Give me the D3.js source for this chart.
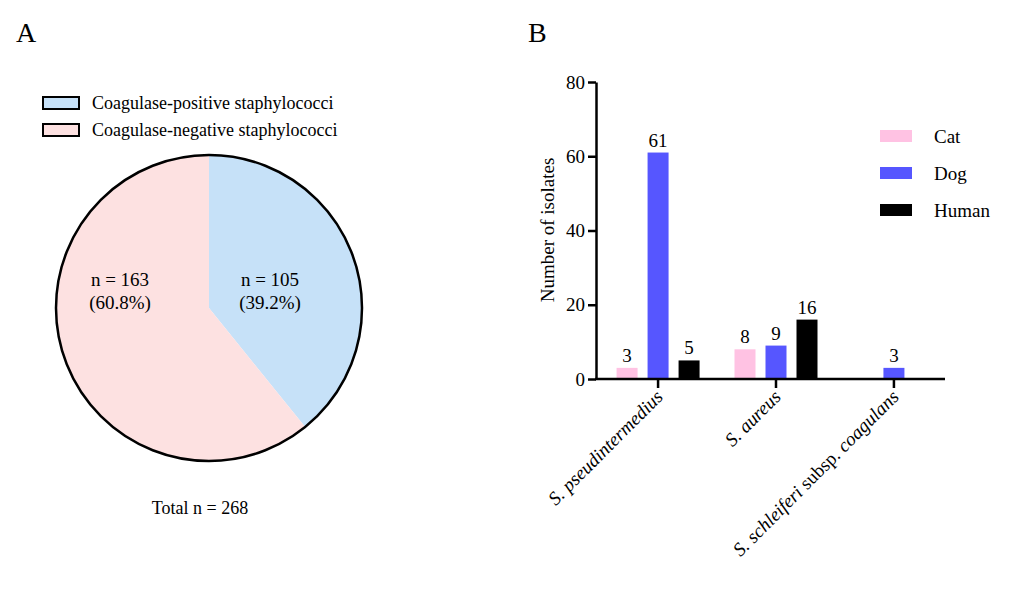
<!DOCTYPE html>
<html><head><meta charset="utf-8">
<script src="https://cdn.jsdelivr.net/npm/d3@7"></script>
<style>body{margin:0;background:#fff}text{font-family:"Liberation Serif","Times New Roman",serif}</style>
</head><body><svg id="c" width="1019" height="603"></svg>
<script>
const pieLabels=["Coagulase-positive staphylococci","Coagulase-negative staphylococci"];
const pieValues=[105,163];
const piePct=["39.2%","60.8%"];
const pieColors=["#C6E1F8","#FDE1E1"];
const species=["S. pseudintermedius","S. aureus","S. schleiferi subsp. coagulans"];
const hosts=["Cat","Dog","Human"];
const hostColors=["#FFC2E3","#5656FF","#000000"];
const counts=[[3,61,5],[8,9,16],[0,3,0]];
const yTicks=[0,20,40,60,80];

const svg=d3.select("#c");
svg.append("text").attr("x",16).attr("y",42).attr("font-size",28).text("A");
svg.append("text").attr("x",528).attr("y",42).attr("font-size",28).text("B");

// Pie
const cx=209,cy=308,r=153;
const arcs=d3.pie().sort(null)(pieValues);
const arc=d3.arc().innerRadius(0).outerRadius(r);
const g=svg.append("g").attr("transform",`translate(${cx},${cy})`);
g.selectAll("path").data(arcs).join("path").attr("d",arc).attr("fill",(d,i)=>pieColors[i]);
g.append("circle").attr("r",r).attr("fill","none").attr("stroke","#000").attr("stroke-width",2.5);
const lp=[[61,-22],[-89,-22]];
arcs.forEach((d,i)=>{
  const t=g.append("text").attr("text-anchor","middle").attr("font-size",19);
  t.append("tspan").attr("x",lp[i][0]).attr("y",lp[i][1]).text("n = "+pieValues[i]);
  t.append("tspan").attr("x",lp[i][0]).attr("y",lp[i][1]+23).text("("+piePct[i]+")");
});
pieLabels.forEach((l,i)=>{
  svg.append("rect").attr("x",43).attr("y",97+i*27).attr("width",36).attr("height",12).attr("fill",pieColors[i]).attr("stroke","#000").attr("stroke-width",2);
  svg.append("text").attr("x",92).attr("y",109+i*27).attr("font-size",18).text(l);
});
svg.append("text").attr("x",200).attr("y",514).attr("text-anchor","middle").attr("font-size",18).text("Total n = 268");

// Bars
const x0=d3.scaleBand().domain(species).range([605,947]).paddingInner(0.1).paddingOuter(0);
const y=d3.scaleLinear().domain([0,80]).range([379,82]);
const x1=d3.scaleBand().domain(hosts).range([-46,46]);
const bw=21;
species.forEach((s,si)=>{
  const gc=x0(s)+x0.bandwidth()/2;
  hosts.forEach((h,hi)=>{
    const v=counts[si][hi]; if(!v) return;
    const xc=gc+(hi-1)*31;
    svg.append("rect").attr("x",xc-bw/2).attr("width",bw).attr("y",y(v)).attr("height",y(0)-y(v)).attr("fill",hostColors[hi]);
    svg.append("text").attr("x",xc).attr("y",y(v)-6).attr("text-anchor","middle").attr("font-size",19).text(v);
  });
});
const ya=svg.append("g").attr("transform","translate(596,0)").call(d3.axisLeft(y).tickValues(yTicks).tickSize(8).tickSizeOuter(0));
ya.select(".domain").attr("stroke-width",2.5);
ya.selectAll("line").attr("stroke-width",2.5);
ya.selectAll("text").attr("font-size",19).attr("font-family","Liberation Serif");
svg.append("line").attr("x1",595).attr("x2",945).attr("y1",379).attr("y2",379).attr("stroke","#000").attr("stroke-width",2.5);
species.forEach(s=>{
  const gc=x0(s)+x0.bandwidth()/2;
  svg.append("line").attr("x1",gc).attr("x2",gc).attr("y1",379).attr("y2",388).attr("stroke","#000").attr("stroke-width",2.5);
  const t=svg.append("text").attr("transform",`translate(${gc+6},${398}) rotate(-45)`).attr("text-anchor","end").attr("font-size",19);
  const parts=s.split(" subsp. ");
  t.append("tspan").attr("font-style","italic").text(parts[0]);
  if(parts[1]){t.append("tspan").text(" subsp. ");t.append("tspan").attr("font-style","italic").text(parts[1]);}
});
svg.append("text").attr("transform","translate(554,230) rotate(-90)").attr("text-anchor","middle").attr("font-size",19).text("Number of isolates");
hosts.forEach((h,i)=>{
  const yy=136+i*37;
  svg.append("rect").attr("x",880).attr("y",yy-6).attr("width",32).attr("height",12).attr("fill",hostColors[i]);
  svg.append("text").attr("x",934).attr("y",yy+7).attr("font-size",19).text(h);
});
</script></body></html>
